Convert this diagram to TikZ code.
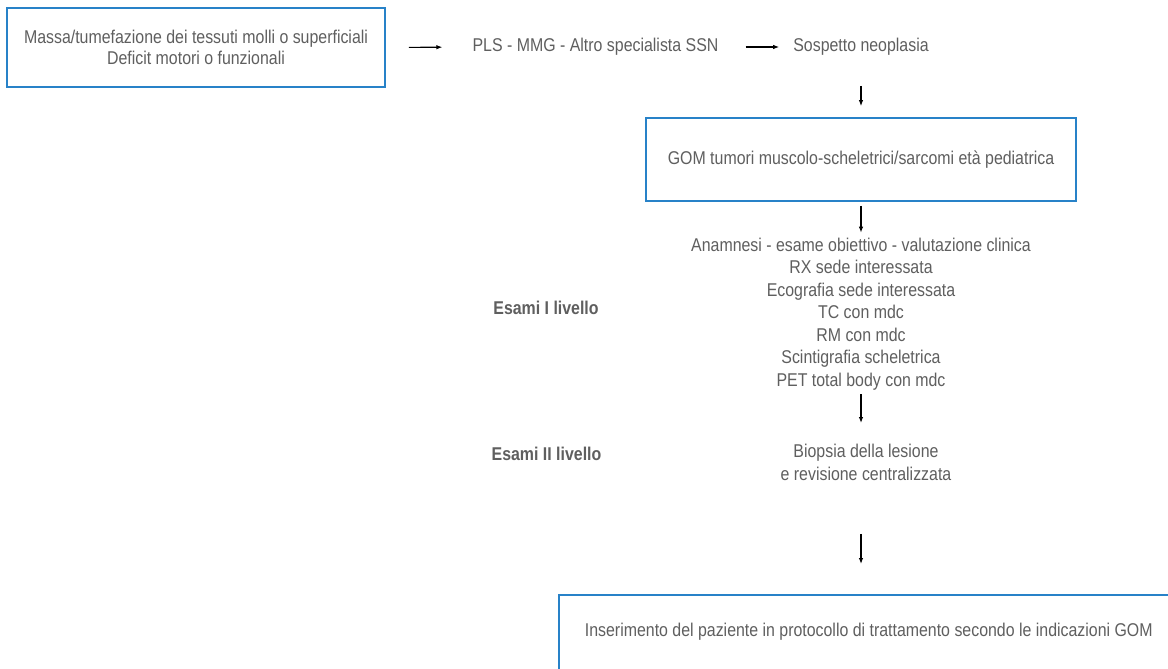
\documentclass[tikz,border=0pt]{standalone}
\usepackage{fontspec}
\setmainfont{Liberation Sans}[FakeStretch=0.86]
\usepackage{tikz}
\usetikzlibrary{arrows.meta,positioning}
\definecolor{gomblue}{RGB}{40,130,200}
\definecolor{txtgray}{RGB}{95,95,95}

\begin{document}
\begin{tikzpicture}[x=1pt,y=-1pt,font=\fontsize{18.5}{22.5}\selectfont,text=txtgray,
    box/.style={draw=gomblue,line width=1.8pt,align=center,inner sep=0pt},
    lbl/.style={align=center,inner sep=0pt},
    livello/.style={lbl,font=\fontsize{18.5}{22.5}\selectfont\bfseries},
    arr/.style={-{Latex[length=6pt,width=4.5pt]},line width=1.1pt}]
  \useasboundingbox[fill=white] (0,0) rectangle (1168,669);
  \clip (0,0) rectangle (1168,669);
  \node[box,minimum width=378,minimum height=79,font=\fontsize{18.5}{21}\selectfont] (sintomi) at (196,47.5)
    {Massa/tumefazione dei tessuti molli o superficiali\\Deficit motori o funzionali};
  \node[lbl] (pls) at (595.5,47) {PLS - MMG - Altro specialista SSN};
  \node[lbl] (sospetto) at (861,47) {Sospetto neoplasia};
  \node[box,minimum width=430,minimum height=83] (gom) at (861,159.5)
    {GOM tumori muscolo-scheletrici/sarcomi età pediatrica};
  \node[lbl] (esami1) at (861,314)
    {Anamnesi - esame obiettivo - valutazione clinica\\RX sede interessata\\
     Ecografia sede interessata\\TC con mdc\\RM con mdc\\
     Scintigrafia scheletrica\\PET total body con mdc};
  \node[livello] (liv1) at (546,308) {Esami I livello};
  \node[lbl,font=\fontsize{18.5}{23}\selectfont] (biopsia) at (866,462.5)
    {Biopsia della lesione\\e revisione centralizzata};
  \node[livello] (liv2) at (546.5,454) {Esami II livello};
  \node[box,anchor=north west,inner xsep=26pt,inner ysep=28pt,text depth=50pt] (goal) at (558,594)
    {Inserimento del paziente in protocollo di trattamento secondo le indicazioni GOM};

  \draw[arr,shorten <=23pt,shorten >=30pt] (sintomi.east) -- (pls.west);
  \draw[arr,shorten <=27pt,shorten >=14pt] (pls.east) -- (sospetto.west);
  \draw[arr,shorten <=30pt,shorten >=11pt] (sospetto.south) -- (gom.north);
  \draw[arr,shorten <=4pt,shorten >=5pt] (gom.south) -- (esami1.north);
  \draw[arr,shorten <=4pt,shorten >=21pt] (esami1.south) -- (esami1.south |- biopsia.north);
  \draw[arr,shorten <=53pt,shorten >=30pt] (esami1.south |- biopsia.south) -- (esami1.south |- goal.north);
\end{tikzpicture}
\end{document}
